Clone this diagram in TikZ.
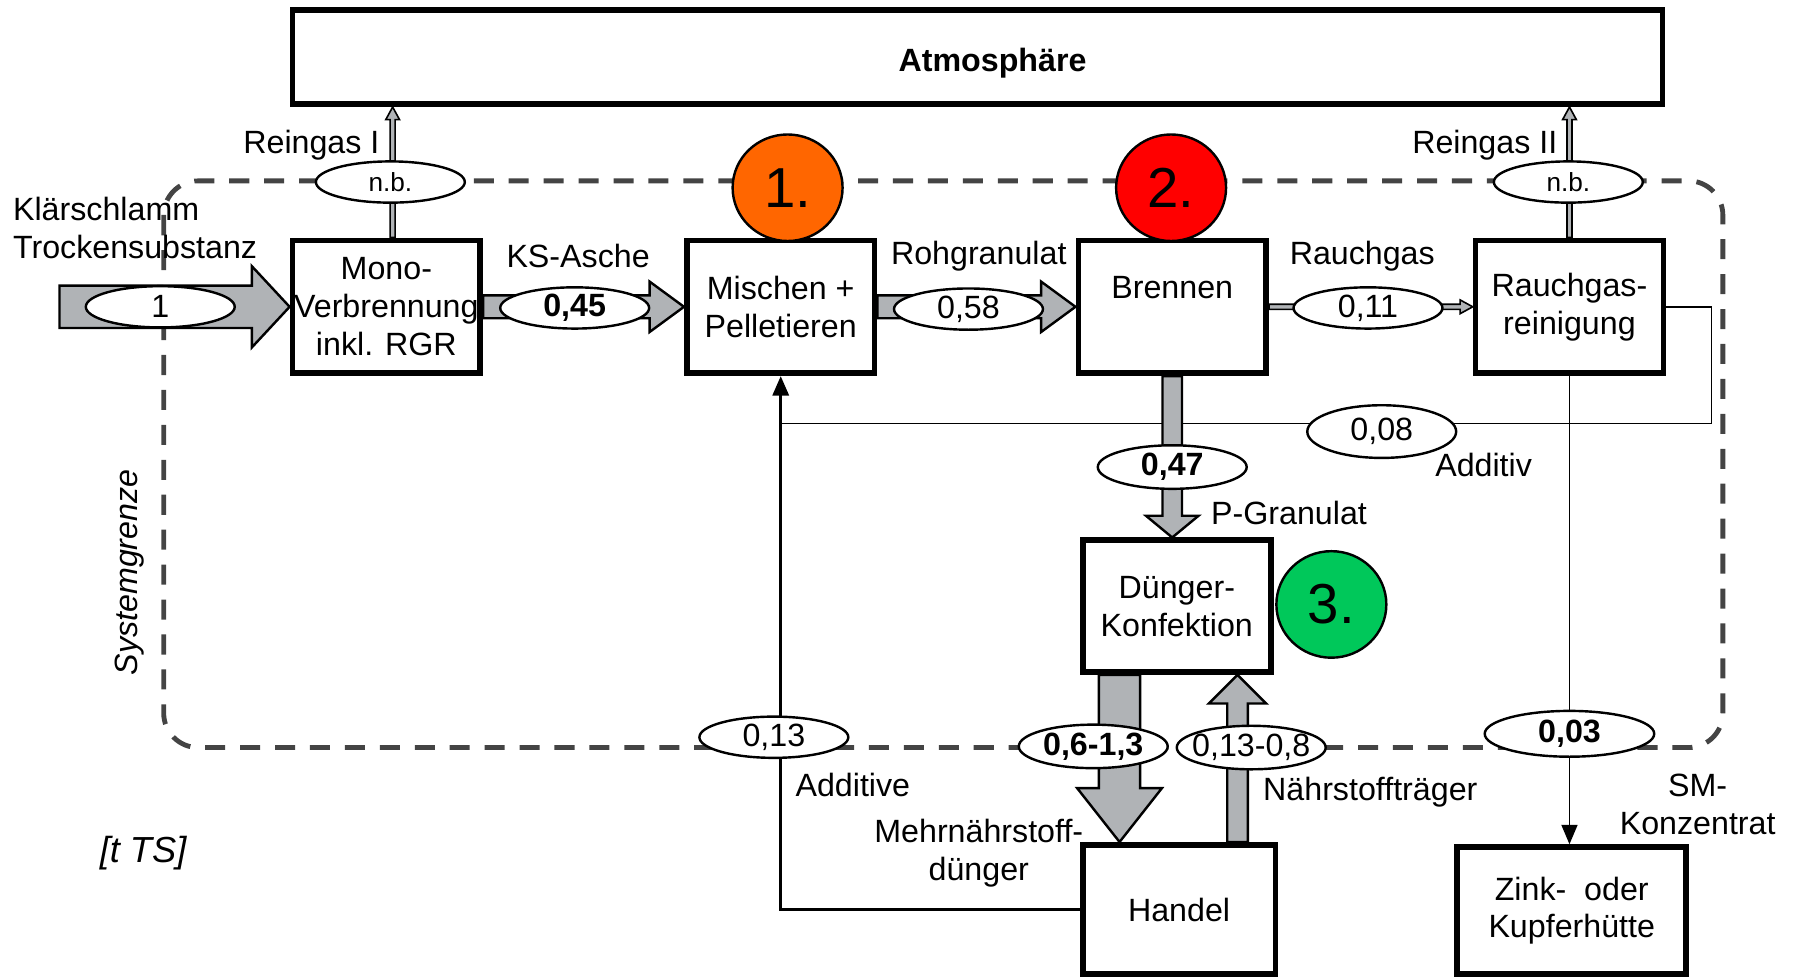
\documentclass[tikz,border=0pt]{standalone}
\usepackage{fontspec}
\setmainfont{Liberation Sans}
\usetikzlibrary{positioning,calc,shapes.geometric,arrows.meta}
\definecolor{flowgray}{RGB}{176,179,182}
\definecolor{linegray}{RGB}{68,68,68}
\definecolor{steporange}{RGB}{255,102,0}
\definecolor{stepred}{RGB}{255,0,0}
\definecolor{stepgreen}{RGB}{0,200,90}

% block arrow: [style]{from}{to}{shaft half width}{head half width}{head length}
\newcommand{\blockflow}[6][flow]{%
  \coordinate (bf) at ($(#3)!#6!(#2)$);
  \filldraw[#1] ($(#2)!#4!90:(#3)$) -- ($(bf)!#4!-90:(#2)$) -- ($(bf)!#5!-90:(#2)$) -- (#3)
    -- ($(bf)!#5!90:(#2)$) -- ($(bf)!#4!90:(#2)$) -- ($(#2)!#4!-90:(#3)$) -- cycle;}
\newcommand{\flowval}[1]{\makebox[0pt]{#1}}

\begin{document}
\begin{tikzpicture}[
    x=0.01cm, y=-0.01cm,
    >={Triangle[length=1.7mm,width=1.4mm]},
    font=\fontsize{8}{9.4}\selectfont,
    box/.style={draw, line width=1.4pt, fill=white, align=center, inner sep=0pt, minimum width=1.64cm, minimum height=1.16cm},
    val/.style={draw, ellipse, fill=white, line width=0.6pt, inner sep=0pt, minimum width=1.3cm, minimum height=0.36cm},
    stepmark/.style={draw, ellipse, line width=0.6pt, inner sep=0pt, minimum width=0.96cm, minimum height=0.93cm, font=\fontsize{14}{14}\selectfont},
    flow/.style={fill=flowgray, draw=black, line width=0.6pt},
    gas/.style={fill=flowgray, draw=black, line width=0.4pt},
    link/.style={draw, line width=0.4pt},
    sysline/.style={draw=linegray, line width=1.2pt, dash pattern=on 1.75mm off 1.3mm, rounded corners=3mm}
]
\useasboundingbox (0,0) rectangle (1568,854);

% System boundary
\draw[sysline] (143,158) rectangle (1505,653);

% Atmosphere
\node[box, minimum width=11.96cm, minimum height=0.82cm] (atm) at (854,50) {};
\node[font=\fontsize{8}{9.4}\selectfont\bfseries] (atmtext) at (867,55) {Atmosphäre};

% Process boxes
\node[box] (mono) at (337.5,268) {Mono-\\Verbrennung\\inkl. RGR};
\node[box] (misch) at (682,268) {Mischen +\\Pelletieren};
\node[box] (brenn) at (1024,268) {Brennen\\~};
\node[box] (rgr) at (1371,268) {Rauchgas-\\reinigung};
\node[box, minimum height=1.15cm] (dk) at (1028,529.5) {Dünger-\\Konfektion};
\node[box, minimum width=1.68cm, minimum height=1.13cm] (handel) at (1030,794.5) {Handel};
\node[box, minimum width=2cm, minimum height=1.11cm] (zink) at (1373,795.5) {Zink-~ oder\\Kupferhütte};

% Thin connections
\coordinate (ret) at (1495,370);
\draw[link, line width=0.75pt, ->] (handel.west) -| (misch.south);
\draw[link] (rgr.east) -| (ret) -- (misch.south |- ret);
\draw[link, ->] (rgr.south) -- (rgr.south |- zink.north);

% Mass flows
\coordinate (src) at (52,268);
\coordinate (g1a) at ([xshift=0.55mm]mono.north);
\coordinate (g1b) at (g1a |- atm.south);
\coordinate (g2b) at (rgr.north |- atm.south);
\coordinate (pg) at (brenn.south |- dk.north);
\coordinate (md1) at ([xshift=-5mm]dk.south);
\coordinate (md2) at (md1 |- handel.north);
\coordinate (nt1) at ([xshift=5.1mm]handel.north);
\coordinate (nt2) at (nt1 |- dk.south);

\blockflow{src}{mono.west}{1.85mm}{3.55mm}{3.3mm}
\blockflow{mono.east}{misch.west}{1mm}{2.2mm}{3mm}
\blockflow{misch.east}{brenn.west}{1mm}{2.2mm}{3mm}
\blockflow[gas]{brenn.east}{rgr.west}{0.22mm}{0.6mm}{1.1mm}
\blockflow[gas]{g1a}{g1b}{0.22mm}{0.6mm}{1.1mm}
\blockflow[gas]{rgr.north}{g2b}{0.22mm}{0.6mm}{1.1mm}
\blockflow{brenn.south}{pg}{0.85mm}{2.3mm}{1.9mm}
\blockflow{md1}{md2}{1.8mm}{3.7mm}{4.7mm}
\blockflow{nt1}{nt2}{0.9mm}{2.5mm}{2.5mm}

% Flow values
\node[val] (v1) at (140,268) {\flowval{1}};
\node[val] (v045) at (502,269) {\flowval{\textbf{0,45}}};
\node[val] (v058) at (846,270) {\flowval{0,58}};
\node[val] (v011) at (1195,269) {\flowval{0,11}};
\node[val, font=\fontsize{6.5}{7}\selectfont] (nb1) at (341,159) {\flowval{n.b.}};
\node[val, font=\fontsize{6.5}{7}\selectfont] (nb2) at (1370,159) {\flowval{n.b.}};
\node[val, minimum height=0.38cm] (v047) at (1024,408) {\flowval{\textbf{0,47}}};
\node[val, minimum height=0.46cm] (v008) at (1207,377) {\flowval{0,08}};
\node[val, minimum height=0.38cm] (v0613) at (955,652) {\flowval{\textbf{0,6-1,3}}};
\node[val, minimum height=0.38cm] (v0138) at (1093,653) {\flowval{0,13-0,8}};
\node[val] (v013) at (676,644) {\flowval{0,13}};
\node[val, minimum width=1.48cm, minimum height=0.4cm] (v003) at (1371,641) {\flowval{\textbf{0,03}}};

% Steps
\node[stepmark, fill=steporange] (s1) at (688,164) {1.};
\node[stepmark, fill=stepred] (s2) at (1023,164) {2.};
\node[stepmark, fill=stepgreen] (s3) at (1163,528) {3.};

% Labels
\node[align=left, anchor=west] (ks) at (-1,199) {Klärschlamm\\Trockensubstanz};
\node (lks) at (505,224) {KS-Asche};
\node (lrg) at (855,224) {Rohgranulat};
\node (lrh) at (1190,224) {Rauchgas};
\node (lr1) at (272,127) {Reingas I};
\node (lr2) at (1297,127) {Reingas II};
\node (lpg) at (1126,448) {P-Granulat};
\node (lad) at (1296,406) {Additiv};
\node (lads) at (745,686) {Additive};
\node[align=center] (lmd) at (855,745) {Mehrnährstoff-\\dünger};
\node (lnt) at (1197,692) {Nährstoffträger};
\node[align=center] (lsm) at (1483,703) {SM-\\Konzentrat};
\node[rotate=90, font=\fontsize{8}{9.4}\selectfont\itshape] (sg) at (113,500) {Systemgrenze};
\node[font=\fontsize{9}{10}\selectfont\itshape] (unit) at (125,745) {[t TS]};

\end{tikzpicture}
\end{document}
